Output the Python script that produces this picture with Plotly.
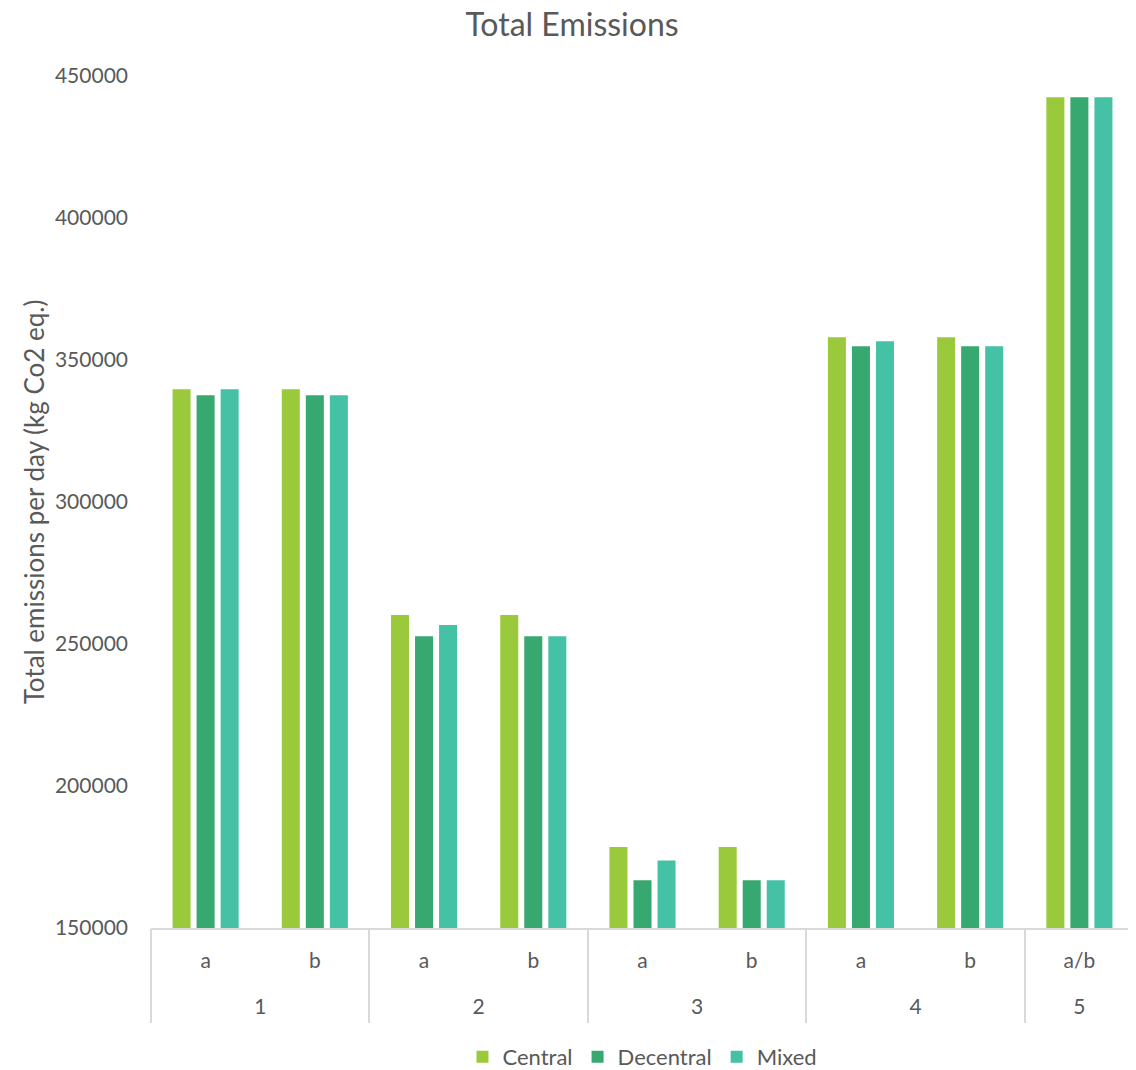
import plotly.graph_objects as go

# scenario groups and variants (two-level category axis)
groups = ["1", "1", "2", "2", "3", "3", "4", "4", "5"]
variants = ["a", "b", "a", "b", "a", "b", "a", "b", "a/b"]

central = [339700, 339700, 260200, 260200, 178500, 178500, 358000, 358000, 442500]
decentral = [337600, 337600, 252700, 252700, 166800, 166800, 354800, 354800, 442500]
mixed = [339700, 337600, 256700, 252700, 173800, 166800, 356600, 354800, 442500]

series = [
    ("Central", central, "#9ACA3C"),
    ("Decentral", decentral, "#37A870"),
    ("Mixed", mixed, "#45C2A5"),
]

FONT = "Lato, 'Open Sans', sans-serif"
GREY = "#595959"
LINE = "#D9D9D9"

# the page body adds an 8px margin, so the figure is a little smaller
W, H = 1128, 1062

# unique category ids, one per slot
ids = [g + "-" + v for g, v in zip(groups, variants)]

# group centres and boundaries in category-index units
group_names, centres, bounds = [], [], [-0.5]
start = 0
for i in range(1, len(groups) + 1):
    if i == len(groups) or groups[i] != groups[start]:
        group_names.append(groups[start])
        centres.append((start + i - 1) / 2)
        bounds.append(i - 0.5)
        start = i

xr = [-0.5, len(ids) - 0.5]

fig = go.Figure()
for name, vals, color in series:
    fig.add_trace(go.Bar(
        x=ids,
        y=vals,
        name=name,
        marker=dict(color=color, line_width=0),
    ))

fig.update_layout(
    width=W,
    height=H,
    margin=dict(l=143, r=2, t=68, b=142),
    paper_bgcolor="white",
    plot_bgcolor="white",
    barmode="group",
    bargap=0.34,
    bargroupgap=0.25,
    font=dict(family=FONT, size=21, color=GREY),
    title=dict(text="Total Emissions", x=0.5, xanchor="center",
               y=1 - 17 / H, yanchor="middle",
               font=dict(size=32, color=GREY)),
    legend=dict(orientation="h", x=0.5, xanchor="center",
                yref="container", y=1 - 1049 / H, yanchor="middle",
                font=dict(size=22, color=GREY), traceorder="normal"),
)

fig.update_yaxes(
    range=[150000, 450000],
    dtick=50000,
    showgrid=False,
    zeroline=False,
    tickformat="d",
    ticks="",
    automargin=False,
    ticklabelstandoff=22,
    title=dict(text="Total emissions per day (kg Co2 eq.)",
               font=dict(size=26, color=GREY), standoff=2),
    tickfont=dict(size=21, color=GREY),
)

# inner level: variants
fig.update_layout(
    xaxis=dict(
        type="category",
        range=xr,
        tickvals=ids,
        ticktext=variants,
        showline=True,
        linecolor=LINE,
        linewidth=2,
        showgrid=False,
        ticks="",
        automargin=False,
        ticklabelstandoff=13,
        tickfont=dict(size=21, color=GREY),
    ),
    # outer level: groups
    xaxis2=dict(
        overlaying="x",
        anchor="y",
        side="bottom",
        range=xr,
        tickvals=centres,
        ticktext=group_names,
        showline=False,
        showgrid=False,
        zeroline=False,
        ticks="",
        automargin=False,
        ticklabelstandoff=64,
        tickfont=dict(size=21, color=GREY),
    ),
    # group dividers
    xaxis3=dict(
        overlaying="x",
        anchor="y",
        side="bottom",
        range=xr,
        tickvals=bounds,
        showticklabels=False,
        showline=False,
        showgrid=False,
        zeroline=False,
        ticks="outside",
        ticklen=94,
        tickwidth=2,
        tickcolor=LINE,
        automargin=False,
    ),
)

# invisible helpers so the extra axes are drawn
fig.add_trace(go.Scatter(x=centres, y=[None] * len(centres), xaxis="x2",
                         showlegend=False, hoverinfo="skip"))
fig.add_trace(go.Scatter(x=bounds, y=[None] * len(bounds), xaxis="x3",
                         showlegend=False, hoverinfo="skip"))

fig.write_html("out.html")
